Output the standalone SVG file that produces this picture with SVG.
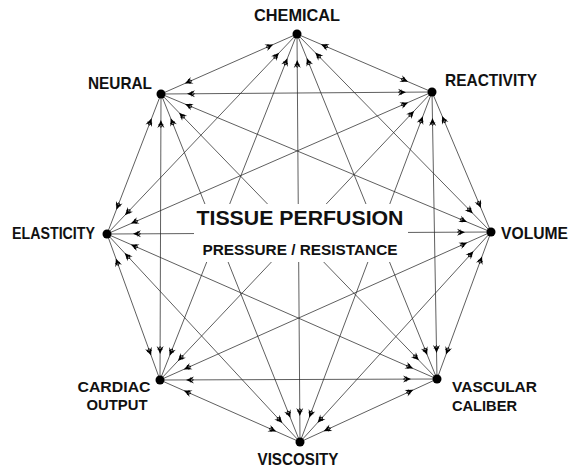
<svg xmlns="http://www.w3.org/2000/svg" width="573" height="469" viewBox="0 0 573 469">
<style>
.e{stroke:#2a2a2a;stroke-width:0.75;fill:none;marker-start:url(#ah);marker-end:url(#ah)}
.dot{fill:#000}
.lb{font-family:"Liberation Sans",Arial,sans-serif;font-weight:bold;font-size:17px;fill:#111}
.lb2{font-family:"Liberation Sans",Arial,sans-serif;font-weight:bold;font-size:15.5px;fill:#111}
.ct{font-family:"Liberation Sans",Arial,sans-serif;fill:#111}
</style>
<defs>
<marker id="ah" markerUnits="userSpaceOnUse" orient="auto-start-reverse" viewBox="-40 -10 50 20" markerWidth="50" markerHeight="20" refX="0" refY="0">
<path d="M-26,0 L-34,-3.5 L-31,0 L-34,3.5 Z" fill="#000"/>
<path d="M-30.5,-2.3 L-33.5,0 L-30.5,2.3" stroke="#000" stroke-width="0.8" fill="none"/>
</marker>
</defs>
<rect width="573" height="469" fill="#fff"/>
<g id="connectors">
<line class="e" x1="297" y1="34" x2="432" y2="92"/>
<line class="e" x1="297" y1="34" x2="491" y2="232"/>
<line class="e" x1="297" y1="34" x2="437" y2="379"/>
<line class="e" x1="297" y1="34" x2="300" y2="442"/>
<line class="e" x1="297" y1="34" x2="160" y2="380"/>
<line class="e" x1="297" y1="34" x2="107" y2="234"/>
<line class="e" x1="297" y1="34" x2="161" y2="94"/>
<line class="e" x1="432" y1="92" x2="491" y2="232"/>
<line class="e" x1="432" y1="92" x2="437" y2="379"/>
<line class="e" x1="432" y1="92" x2="300" y2="442"/>
<line class="e" x1="432" y1="92" x2="160" y2="380"/>
<line class="e" x1="432" y1="92" x2="107" y2="234"/>
<line class="e" x1="432" y1="92" x2="161" y2="94"/>
<line class="e" x1="491" y1="232" x2="437" y2="379"/>
<line class="e" x1="491" y1="232" x2="300" y2="442"/>
<line class="e" x1="491" y1="232" x2="160" y2="380"/>
<line class="e" x1="491" y1="232" x2="107" y2="234"/>
<line class="e" x1="491" y1="232" x2="161" y2="94"/>
<line class="e" x1="437" y1="379" x2="300" y2="442"/>
<line class="e" x1="437" y1="379" x2="160" y2="380"/>
<line class="e" x1="437" y1="379" x2="107" y2="234"/>
<line class="e" x1="437" y1="379" x2="161" y2="94"/>
<line class="e" x1="300" y1="442" x2="160" y2="380"/>
<line class="e" x1="300" y1="442" x2="107" y2="234"/>
<line class="e" x1="300" y1="442" x2="161" y2="94"/>
<line class="e" x1="160" y1="380" x2="107" y2="234"/>
<line class="e" x1="160" y1="380" x2="161" y2="94"/>
<line class="e" x1="107" y1="234" x2="161" y2="94"/>
</g>
<g id="title">
<rect x="194" y="204" width="214" height="58" fill="#fff"/>
<text class="ct" x="300" y="225" font-size="20" font-weight="bold" text-anchor="middle" textLength="207" lengthAdjust="spacingAndGlyphs">TISSUE PERFUSION</text>
<text class="ct" x="300" y="255" font-size="15" font-weight="bold" text-anchor="middle" textLength="195" lengthAdjust="spacingAndGlyphs">PRESSURE / RESISTANCE</text>
</g>
<g id="chemical"><circle class="dot" cx="297" cy="34" r="4.5"/><text class="lb" x="297" y="21" text-anchor="middle" textLength="86" lengthAdjust="spacingAndGlyphs">CHEMICAL</text></g>
<g id="reactivity"><circle class="dot" cx="432" cy="92" r="4.5"/><text class="lb" x="445" y="86" textLength="92" lengthAdjust="spacingAndGlyphs">REACTIVITY</text></g>
<g id="volume"><circle class="dot" cx="491" cy="232" r="4.5"/><text class="lb" x="501" y="239" textLength="67" lengthAdjust="spacingAndGlyphs">VOLUME</text></g>
<g id="vascular-caliber"><circle class="dot" cx="437" cy="379" r="4.5"/><text class="lb2" x="452" y="392" textLength="85" lengthAdjust="spacingAndGlyphs">VASCULAR</text><text class="lb2" x="452" y="411" textLength="65" lengthAdjust="spacingAndGlyphs">CALIBER</text></g>
<g id="viscosity"><circle class="dot" cx="300" cy="442" r="4.5"/><text class="lb" x="298" y="465" text-anchor="middle" textLength="81" lengthAdjust="spacingAndGlyphs">VISCOSITY</text></g>
<g id="cardiac-output"><circle class="dot" cx="160" cy="380" r="4.5"/><text class="lb2" x="114" y="392" text-anchor="middle" textLength="73" lengthAdjust="spacingAndGlyphs">CARDIAC</text><text class="lb2" x="117" y="410" text-anchor="middle" textLength="61" lengthAdjust="spacingAndGlyphs">OUTPUT</text></g>
<g id="elasticity"><circle class="dot" cx="107" cy="234" r="4.5"/><text class="lb" x="12" y="239" textLength="83" lengthAdjust="spacingAndGlyphs">ELASTICITY</text></g>
<g id="neural"><circle class="dot" cx="161" cy="94" r="4.5"/><text class="lb" x="88" y="89" textLength="64" lengthAdjust="spacingAndGlyphs">NEURAL</text></g>
</svg>
